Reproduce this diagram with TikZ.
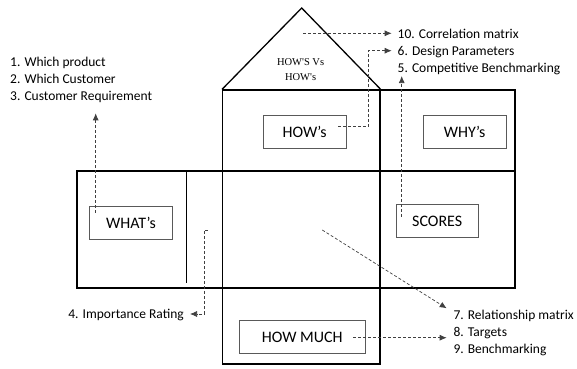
\documentclass[tikz,border=0pt]{standalone}
\usepackage{fontspec}
\setmainfont{Carlito}
\newfontfamily\rooffont{Liberation Serif}
\usetikzlibrary{arrows.meta}
\usetikzlibrary{positioning}
\tikzset{
    frame/.style={
           rectangle,
           draw=black, line width=1.3pt,
           inner sep=0pt,
           },
    block/.style={
           rectangle,
           draw=black!65, line width=0.8pt,
           inner sep=0pt,
           font=\fontsize{16}{18}\selectfont,
           text centered,
           },
    frameless/.style={
           inner sep=0pt,
           align=left,
           font=\fontsize{13.5}{17}\selectfont,
           },
    dasharrow/.style={
           draw=black!75, line width=0.7pt,
           dash pattern=on 3pt off 2pt,
           -{Latex[length=7pt,width=6pt]},
           },
}

\begin{document}
\begin{tikzpicture}[x=1pt,y=-1pt]
	\useasboundingbox (0,0) rectangle (577,368);

	%house frames
	\node[frame, minimum width=438pt, minimum height=117pt] (band) at (296,229.5) {};
	\node[frame, minimum width=157.3pt, minimum height=274pt] (col) at (301.35,227) {};
	\node[frame, minimum width=135pt, minimum height=81pt] (whyframe) at (447.5,130.5) {};
	\coordinate (apex) at (301.7,8);
	\draw[line width=1.3pt] (col.north west) -- (apex) -- (col.north east);
	\coordinate (split top) at (186.7,171);
	\coordinate (split bot) at (186.7,283);
	\draw[line width=0.8pt] (split top) -- (split bot);

	\node[align=center, inner sep=0pt, font=\rooffont\fontsize{10.5}{15.5}\selectfont,
		anchor=north] (roof) at (300.6,58) {HOW'S Vs\\HOW's};

	%inner blocks
	\node[block, minimum width=82.7pt, minimum height=33pt] (howbox) at (304.7,131.5) {HOW's};
	\node[block, minimum width=82.7pt, minimum height=33pt] (whybox) at (464.7,131.5) {WHY's};
	\node[block, minimum width=83.4pt, minimum height=33.3pt] (whatbox) at (131,222.7) {WHAT's};
	\node[block, minimum width=82.3pt, minimum height=33.4pt] (scorebox) at (437.2,221) {SCORES};
	\node[block, minimum width=126pt, minimum height=32.6pt] (muchbox) at (302.3,337) {HOW MUCH};

	%labels
	\node[frameless, anchor=north west] (list1) at (10,57) {1. Which product\\
										2. Which Customer\\
										3. Customer Requirement};
	\node[frameless, anchor=north west] (list2) at (397.5,28.5) {10. Correlation matrix\\
										6. Design Parameters\\
										5. Competitive Benchmarking};
	\node[frameless, anchor=north west] (list3) at (453.3,310) {7. Relationship matrix\\
										8. Targets\\
										9. Benchmarking};
	\node[frameless, anchor=base east] (imp) at (184,318.5) {4. Importance Rating};

	%EDGES
	\coordinate (what in) at (95.7,212.7);
	\coordinate (what out) at (95.7,113.3);
	\coordinate (roof in) at (303.3,33.3);
	\coordinate (roof out) at (391.7,33.3);
	\coordinate (how in) at (338,126.7);
	\coordinate (how bend1) at (368.3,126.7);
	\coordinate (how bend2) at (368.3,50.7);
	\coordinate (how out) at (391.7,50.7);
	\coordinate (score in) at (401.7,216.7);
	\coordinate (score out) at (401.7,76);
	\coordinate (rel in) at (322.3,230);
	\coordinate (rel out) at (446.7,308.3);
	\coordinate (much in) at (353.3,337.7);
	\coordinate (much out) at (446.7,337.7);
	\coordinate (imp in) at (208,230);
	\coordinate (imp bend1) at (204.3,230);
	\coordinate (imp bend2) at (204.3,314);
	\coordinate (imp out) at (190,314);

	\draw[dasharrow] (what in) -- (what out);
	\draw[dasharrow] (roof in) -- (roof out);
	\draw[dasharrow] (how in) -- (how bend1) -- (how bend2) -- (how out);
	\draw[dasharrow] (score in) -- (score out);
	\draw[dasharrow] (rel in) -- (rel out);
	\draw[dasharrow] (much in) -- (much out);
	\draw[dasharrow] (imp in) -- (imp bend1) -- (imp bend2) -- (imp out);
\end{tikzpicture}
\end{document}
